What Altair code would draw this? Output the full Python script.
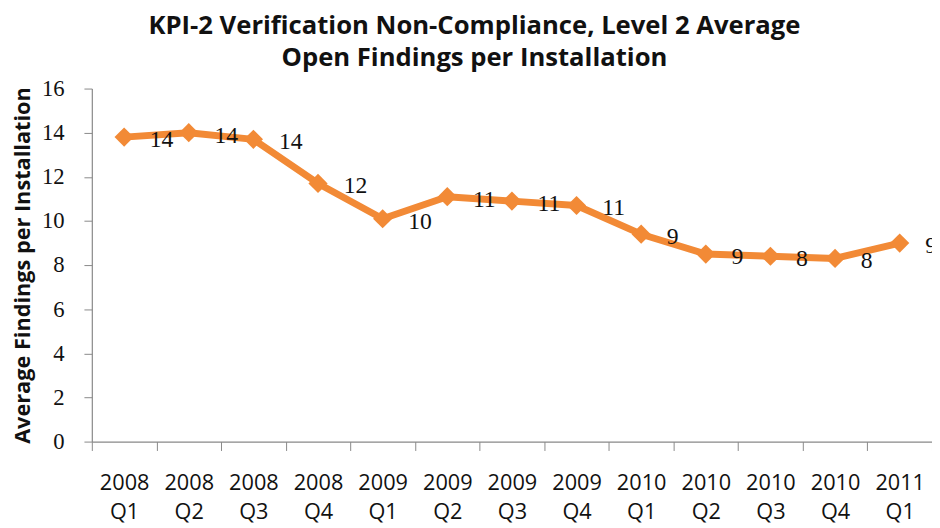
import altair as alt
import pandas as pd

quarters = ["2008 Q1", "2008 Q2", "2008 Q3", "2008 Q4",
            "2009 Q1", "2009 Q2", "2009 Q3", "2009 Q4",
            "2010 Q1", "2010 Q2", "2010 Q3", "2010 Q4",
            "2011 Q1"]
values = [13.8, 14.0, 13.7, 11.7, 10.1, 11.1, 10.9, 10.7, 9.4, 8.5, 8.4, 8.3, 9.0]
labels = ["14", "14", "14", "12", "10", "11", "11", "11", "9", "9", "8", "8", "9"]

df = pd.DataFrame({"q": quarters, "v": values, "lab": labels})

ORANGE = "#F28A36"

x = alt.X("q:N", sort=quarters, title=None,
          scale=alt.Scale(paddingInner=0, paddingOuter=0),
          axis=alt.Axis(labelExpr="split(datum.label, ' ')", labelAngle=0,
                        labelFont="Open Sans", labelFontSize=22, labelColor="#111",
                        labelLineHeight=29, labelPadding=23, labelBaseline="top",
                        tickBand="extent", tickSize=9, tickColor="#888",
                        domainColor="#888", domainWidth=1.2, labelFlush=False))
y = alt.Y("v:Q", title="Average Findings per Installation",
          scale=alt.Scale(domain=[0, 16], nice=False),
          axis=alt.Axis(values=list(range(0, 17, 2)), grid=False,
                        labelFont="Liberation Serif", labelFontSize=23, labelColor="#111",
                        labelPadding=20, tickSize=8, tickColor="#888",
                        domainColor="#888", domainWidth=1.2,
                        titleFont="Open Sans", titleFontWeight="bold", titleFontSize=22,
                        titleColor="#111", titlePadding=7))

base = alt.Chart(df).encode(x=x, y=y)

line = base.mark_line(color=ORANGE, strokeWidth=7, strokeJoin="round")
pts = base.mark_point(shape="diamond", filled=True, color=ORANGE, opacity=1, size=380)
txt = base.mark_text(font="Liberation Serif", fontSize=24, color="#111",
                     dx=26, dy=3, align="left", baseline="middle").encode(text="lab:N")

chart = alt.layer(line, pts, txt).properties(
    width=852, height=358,
    autosize=alt.AutoSizeParams(type="none"),
    padding={"left": 85, "top": 78, "right": 0, "bottom": 90},
    title=alt.TitleParams(
        text=["KPI-2 Verification Non-Compliance, Level 2 Average",
              "Open Findings per Installation"],
        font="Open Sans", fontWeight="bold", fontSize=26, color="#111",
        lineHeight=32, anchor="middle", dx=-38, offset=7)
).configure_view(stroke=None)

chart.save("out.html", embed_options={"renderer": "svg", "actions": False})
